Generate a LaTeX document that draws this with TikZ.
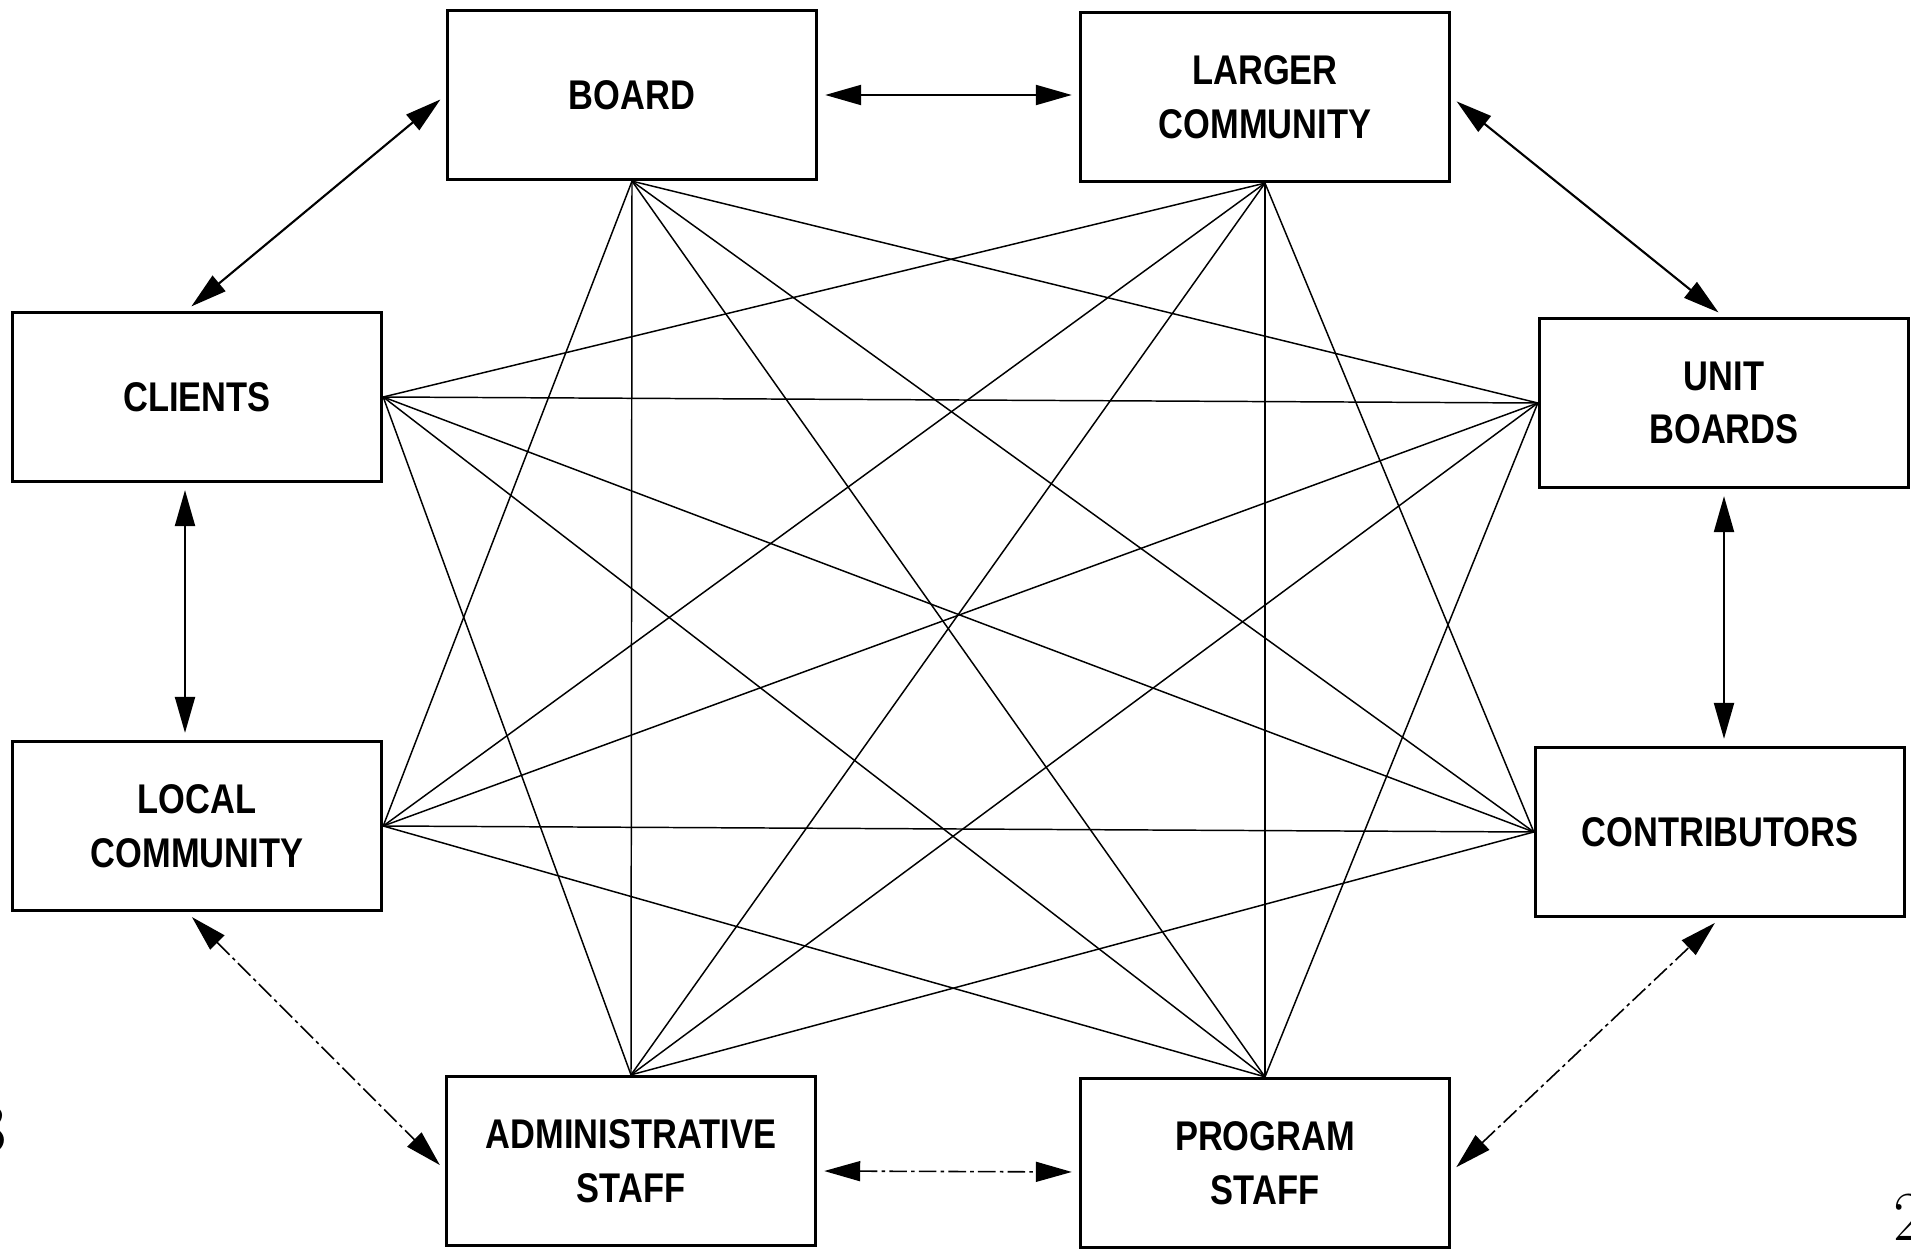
\documentclass[tikz,border=0pt]{standalone}
\usepackage{fontspec}
\newfontfamily\boxfont[FakeStretch=0.83]{Liberation Sans}
\usetikzlibrary{arrows.meta,calc}

\begin{document}
\begin{tikzpicture}[x=0.01cm,y=-0.01cm,
  entity/.style={draw, line width=0.9pt, minimum width=3.69cm, minimum height=1.69cm,
    align=center, inner sep=0pt, font=\boxfont\bfseries\fontsize{11.8}{15.2}\selectfont},
  link/.style={line width=0.42pt},
  rel/.style={{Triangle[length=0.36cm,width=0.2cm]}-{Triangle[length=0.36cm,width=0.2cm]},
    line width=0.6pt, shorten <=0.07cm, shorten >=0.07cm},
  faint/.style={line width=0.45pt, dash pattern=on 5pt off 1.2pt on 1pt off 1.2pt},
  folio/.style={inner sep=0pt, font=\fontsize{20}{24}\selectfont}]

\useasboundingbox (0,0) rectangle (1911,1249);

% the eight parties
\node[entity] (board)   at (632,95)   {BOARD};
\node[entity] (larger)  at (1265,97)  {LARGER\\COMMUNITY};
\node[entity] (clients) at (197,397)  {CLIENTS};
\node[entity] (units)   at (1724,403) {UNIT\\BOARDS};
\node[entity] (local)   at (197,826)  {LOCAL\\COMMUNITY};
\node[entity] (contrib) at (1720,832) {CONTRIBUTORS};
\node[entity] (admin)   at (631,1161) {ADMINISTRATIVE\\STAFF};
\node[entity] (program) at (1265,1163) {PROGRAM\\STAFF};

% links between every pair of non-neighbouring parties
\foreach \a/\b in {
  board.south/units.west, board.south/contrib.west, board.south/program.north,
  board.south/admin.north, board.south/local.east,
  larger.south/contrib.west, larger.south/program.north, larger.south/admin.north,
  larger.south/local.east, larger.south/clients.east,
  units.west/program.north, units.west/admin.north, units.west/local.east,
  units.west/clients.east,
  contrib.west/admin.north, contrib.west/local.east, contrib.west/clients.east,
  program.north/local.east, program.north/clients.east,
  admin.north/clients.east}
  \draw[link] (\a) -- (\b);

% two-way relations between neighbouring parties
\draw[rel] (board.east) -- (larger.west |- board.east);
\draw[rel] (board.west) -- ($(clients.north)+(-11,0)$);
\draw[rel] (larger.east) -- (units.north);
\draw[rel] ($(clients.south)+(-12,0)$) -- ($(local.north)+(-12,0)$);
\draw[rel] (units.south) -- (units.south |- contrib.north);
\draw[rel,faint] ($(local.south)+(-10,0)$) -- ($(admin.west)+(0,9)$);
\draw[rel,faint] ($(admin.east)+(0,10)$) -- ($(program.west)+(0,9)$);
\draw[rel,faint] ($(program.east)+(0,9)$) -- (contrib.south);

% page numbers running off the edges
\node[folio, anchor=base east] (folioL) at (7,1152) {3};
\node[folio, anchor=base west] (folioR) at (1893,1240) {2};
\end{tikzpicture}
\end{document}
